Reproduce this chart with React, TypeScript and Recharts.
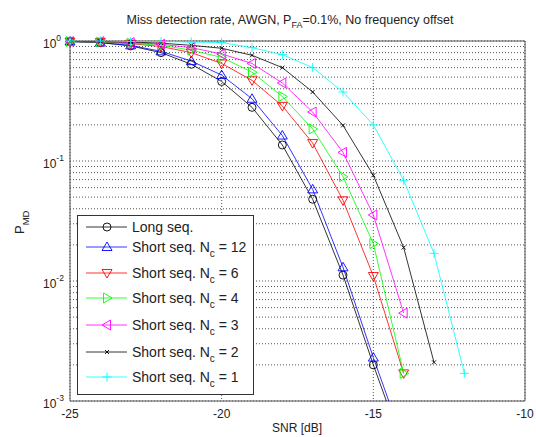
import React from "react";
import {
  LineChart, Line, XAxis, YAxis, CartesianGrid, ReferenceArea, Legend, Customized,
} from "recharts";

// SNR grid (dB)
const snr = [-25, -24, -23, -22, -21, -20, -19, -18, -17, -16, -15, -14, -13, -12];

// miss detection probability
const longSeq = [0.99, 0.97, 0.91, 0.8, 0.64, 0.46, 0.28, 0.136, 0.048, 0.0112, 0.002, 0.0004];
const shortNc12 = [0.99, 0.97, 0.92, 0.82, 0.68, 0.52, 0.33, 0.163, 0.058, 0.013, 0.0023, 0.00045];
const shortNc6 = [0.99, 0.98, 0.95, 0.9, 0.8, 0.65, 0.47, 0.288, 0.141, 0.047, 0.011, 0.0017];
const shortNc4 = [0.99, 0.98, 0.96, 0.92, 0.84, 0.73, 0.55, 0.345, 0.185, 0.074, 0.0205, 0.0017];
const shortNc3 = [0.99, 0.99, 0.97, 0.94, 0.88, 0.78, 0.65, 0.447, 0.256, 0.118, 0.0355, 0.0054];
const shortNc2 = [0.99, 0.99, 0.98, 0.96, 0.92, 0.87, 0.76, 0.6, 0.376, 0.198, 0.076, 0.019, 0.0021];
const shortNc1 = [1.0, 1.0, 0.99, 0.99, 0.98, 0.97, 0.88, 0.77, 0.6, 0.376, 0.2, 0.069, 0.017, 0.0017];

const xTicks = [-25, -20, -15, -10];
const yTicks = [
  0.001, 0.002, 0.003, 0.004, 0.005, 0.006, 0.007, 0.008, 0.009,
  0.01, 0.02, 0.03, 0.04, 0.05, 0.06, 0.07, 0.08, 0.09,
  0.1, 0.2, 0.3, 0.4, 0.5, 0.6, 0.7, 0.8, 0.9, 1,
];

const series = [
  { key: "long", label: "Long seq.", nc: "", color: "#000000", shape: "o", values: longSeq },
  { key: "nc12", label: "Short seq. N", nc: "12", color: "#0000ff", shape: "^", values: shortNc12 },
  { key: "nc6", label: "Short seq. N", nc: "6", color: "#ff0000", shape: "v", values: shortNc6 },
  { key: "nc4", label: "Short seq. N", nc: "4", color: "#00ff00", shape: ">", values: shortNc4 },
  { key: "nc3", label: "Short seq. N", nc: "3", color: "#ff00ff", shape: "<", values: shortNc3 },
  { key: "nc2", label: "Short seq. N", nc: "2", color: "#000000", shape: "x", values: shortNc2 },
  { key: "nc1", label: "Short seq. N", nc: "1", color: "#00ffff", shape: "+", values: shortNc1 },
];

const data = snr.map((s, i) => {
  const row: any = { snr: s };
  series.forEach((sr) => { row[sr.key] = sr.values[i]; });
  return row;
});

const FONT = "'Liberation Sans', Arial, Helvetica, sans-serif";

function markerShape(shape: string, cx: number, cy: number, color: string, k?: any) {
  const p = { stroke: color, strokeWidth: 0.9, fill: "none" };
  const s = 5;
  switch (shape) {
    case "o":
      return <circle key={k} cx={cx} cy={cy} r={4} {...p} />;
    case "^":
      return <polygon key={k} points={`${cx},${cy - s} ${cx + s},${cy + 3.5} ${cx - s},${cy + 3.5}`} {...p} />;
    case "v":
      return <polygon key={k} points={`${cx},${cy + s} ${cx + s},${cy - 3.5} ${cx - s},${cy - 3.5}`} {...p} />;
    case ">":
      return <polygon key={k} points={`${cx + s},${cy} ${cx - 3.5},${cy - s} ${cx - 3.5},${cy + s}`} {...p} />;
    case "<":
      return <polygon key={k} points={`${cx - s},${cy} ${cx + 3.5},${cy - s} ${cx + 3.5},${cy + s}`} {...p} />;
    case "x":
      return (
        <path key={k} d={`M${cx - 2},${cy - 2}L${cx + 2},${cy + 2}M${cx - 2},${cy + 2}L${cx + 2},${cy - 2}`} {...p} />
      );
    default:
      return <path key={k} d={`M${cx - 4.5},${cy}L${cx + 4.5},${cy}M${cx},${cy - 4.5}L${cx},${cy + 4.5}`} {...p} />;
  }
}

const makeDot = (shape: string, color: string) => (props: any) => {
  const { cx, cy, index } = props;
  if (cx == null || cy == null || isNaN(cy)) return <g key={index} />;
  return markerShape(shape, cx, cy, color, index);
};

const YTick = (props: any) => {
  const { y, payload } = props;
  const lg = Math.log10(payload.value);
  const e = Math.round(lg);
  if (Math.abs(lg - e) > 1e-6) return <g />;
  return (
    <text x={43} y={y + 7} fontFamily={FONT} fontSize={12} fill="#222">
      10<tspan dy={-7} fontSize={8.5}>{e}</tspan>
    </text>
  );
};

const XTick = (props: any) => {
  const { x, y, payload } = props;
  return (
    <text x={x} y={y} dy="0.71em" textAnchor="middle" fontFamily={FONT} fontSize={12} fill="#222">
      {payload.value}
    </text>
  );
};

const Labels = () => (
  <g fontFamily={FONT} fill="#222">
    <text x={290} y={24} textAnchor="middle" fontSize={12.5}>
      Miss detection rate, AWGN, P<tspan dy={4} fontSize={9}>FA</tspan>
      <tspan dy={-4}>=0.1%, No frequency offset</tspan>
    </text>
    <text x={297} y={432} textAnchor="middle" fontSize={12}>SNR [dB]</text>
    <text transform="translate(24,234) rotate(-90)" fontSize={13}>
      P<tspan dy={5} fontSize={9.5}>MD</tspan>
    </text>
  </g>
);

const rowY = [12, 32, 58, 83, 110, 137, 162];

const LegendBox = () => (
  <svg width={177} height={181} style={{ display: "block" }}>
    <rect x={0.5} y={0.5} width={176} height={179} fill="#fff" stroke="#333" />
    {series.map((s, i) => (
      <g key={s.key}>
        <line x1={9} x2={50} y1={rowY[i]} y2={rowY[i]} stroke={s.color} strokeWidth={0.8} />
        {markerShape(s.shape, 30, rowY[i], s.color)}
        <text x={55} y={rowY[i] + 5} fontFamily={FONT} fontSize={14} fill="#222">
          {s.label}
          {s.nc && (
            <>
              <tspan dy={5} fontSize={10}>c</tspan>
              <tspan dy={-5}>{" = " + s.nc}</tspan>
            </>
          )}
        </text>
      </g>
    ))}
  </svg>
);

export default function App() {
  return (
    <div style={{ position: "absolute", left: 0, top: 0, width: 536, height: 437, background: "#fff" }}>
      <LineChart width={536} height={437} data={data} margin={{ top: 41, right: 11, left: 0, bottom: 0 }}>
        <CartesianGrid stroke="#555" strokeDasharray="1 2" strokeWidth={1} />
        <XAxis
          type="number" dataKey="snr" domain={[-25, -10]} ticks={xTicks}
          height={36} tickLine={false} axisLine={false} tick={<XTick />}
        />
        <YAxis
          type="number" scale="log" domain={[0.001, 1]} ticks={yTicks} allowDataOverflow
          width={70} tickLine={false} axisLine={false} tick={<YTick />} interval={0}
        />
        <YAxis yAxisId="m" type="number" scale="log" domain={[0.001, 1]} hide />
        <ReferenceArea x1={-25} x2={-10} y1={0.001} y2={1} fill="none" stroke="#555" strokeWidth={1} />
        {series.map((s) => (
          <Line
            key={s.key} dataKey={s.key} stroke={s.color} strokeWidth={0.8} dot={false}
            activeDot={false} isAnimationActive={false} type="linear" legendType="none"
          />
        ))}
        {series.map((s) => (
          <Line
            key={s.key + "-m"} yAxisId="m"
            dataKey={(row: any) => (row[s.key] != null && row[s.key] >= 0.001 ? row[s.key] : null)}
            stroke="none" dot={makeDot(s.shape, s.color)} activeDot={false}
            isAnimationActive={false} legendType="none"
          />
        ))}
        <Legend
          content={<LegendBox />} layout="horizontal" verticalAlign="middle" align="center"
          wrapperStyle={{ position: "absolute", left: 77, top: 215, width: 177, height: 181 }}
        />
        <Customized component={<Labels />} />
      </LineChart>
    </div>
  );
}
